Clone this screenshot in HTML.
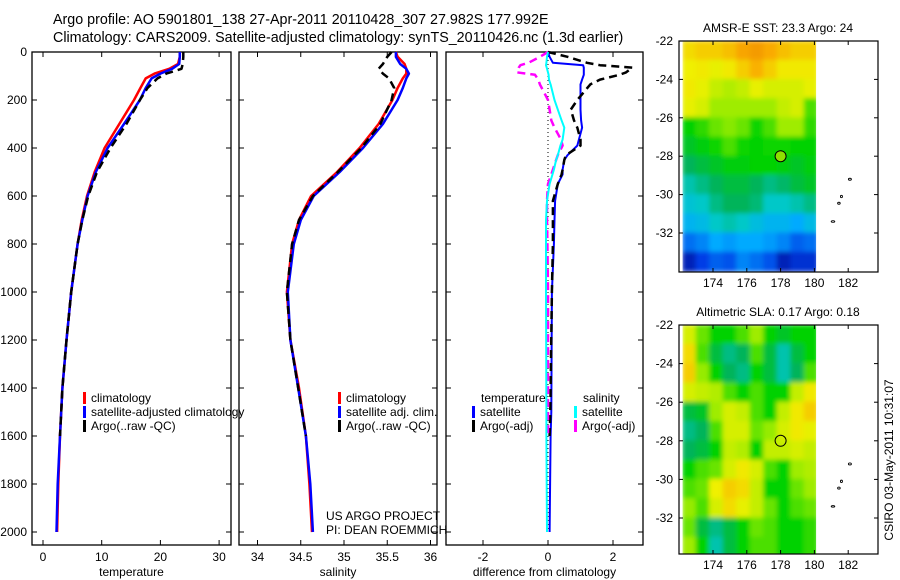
<!DOCTYPE html>
<html><head><meta charset="utf-8">
<style>
html,body{margin:0;padding:0;background:#fff;}
svg{display:block;font-family:"Liberation Sans",sans-serif;}
text{fill:#000;}
</style></head>
<body>
<svg id="c" width="900" height="580" viewBox="0 0 900 580">
<text x="53" y="24" font-size="14.3">Argo profile: AO 5901801_138 27-Apr-2011 20110428_307 27.982S 177.992E</text>
<text x="53" y="42" font-size="14.3">Climatology: CARS2009. Satellite-adjusted climatology: synTS_20110426.nc (1.3d earlier)</text>
</svg>
<script>
// ---- data ----
const depthLevels = [0,20,50,70,90,110,150,200,300,400,500,600,700,800,1000,1200,1400,1600,1800,2000];
const climTemp = [23.3,23.3,23.0,21.5,19.0,17.5,16.6,15.5,13.0,10.5,8.8,7.5,6.6,5.9,4.8,4.0,3.3,2.9,2.6,2.4];
const satTemp  = [23.3,23.3,23.2,22.0,20.0,18.5,17.5,16.5,13.8,11.0,9.0,7.6,6.7,5.9,4.8,4.0,3.3,2.9,2.5,2.3];
const argoDepths = [0,20,50,70,90,110,150,200,300,400,500,600,700,800,1000,1200,1400,1600];
const argoTemp = [23.9,23.9,23.8,23.6,21.0,19.5,17.8,16.5,14.2,11.5,9.2,7.7,6.7,5.9,4.8,4.0,3.3,2.9];
const climSal = [35.6,35.62,35.7,35.72,35.72,35.68,35.62,35.56,35.4,35.18,34.92,34.62,34.48,34.40,34.34,34.38,34.48,34.56,34.6,34.63];
const satSal  = [35.6,35.6,35.65,35.72,35.75,35.72,35.68,35.62,35.45,35.22,34.95,34.65,34.5,34.42,34.35,34.38,34.47,34.56,34.61,34.64];
const argoSal = [35.55,35.5,35.45,35.4,35.45,35.52,35.58,35.55,35.42,35.2,34.93,34.64,34.48,34.4,34.34,34.38,34.47,34.56];
const diffDepths = [0,20,45,55,65,85,95,115,135,200,240,285,315,365,390,430,450,490,510,550,620,700,800,1000,1500,1600,2000];
const satTempDiff = [0,0.05,0.15,1.08,1.1,1.1,1.1,1.05,1.0,1.0,1.0,1.02,1.05,0.95,0.9,0.6,0.5,0.45,0.45,0.3,0.22,0.2,0.18,0.12,0.1,0.08,0.05];
const argoTempDiff = [0,0.6,1.2,1.6,2.6,2.4,2.2,1.6,1.3,0.9,0.7,0.8,0.9,1.0,1.0,0.55,0.5,0.45,0.42,0.3,0.15,0.15,0.15,0.12,0.07,0.05,null];
const satSalDiff = [0,-0.03,-0.05,-0.06,-0.04,0.0,0.02,0.03,0.08,0.2,0.3,0.42,0.5,0.45,0.38,0.3,0.25,0.18,0.14,0.05,-0.03,-0.06,-0.06,-0.06,-0.05,-0.05,-0.03];
const argoSalDiff = [0,-0.25,-0.6,-0.85,-0.9,-0.95,-0.4,-0.3,-0.25,0,0.05,0.1,0.2,0.4,0.45,0.3,0.25,0.15,0.1,0.0,-0.03,-0.03,-0.02,0,0,0,null];
const depthTicks = [0,200,400,600,800,1000,1200,1400,1600,1800,2000];
const tempTicks = [0,10,20,30];
const salTicks = [34,34.5,35,35.5,36];
const diffTicks = [-2,0,2];
const lonTicks = [174,176,178,180,182];
const latTicks = [-22,-24,-26,-28,-30,-32];
// map grids: rows -22 -> -34 (1 deg), cols 172.2 -> 180.2 (0.8 deg), value 0..1 on colour scale
const sstGrid = [
[0.78,0.8,0.8,0.82,0.86,0.88,0.85,0.82,0.8,0.8],
[0.75,0.76,0.74,0.76,0.8,0.84,0.8,0.76,0.76,0.76],
[0.76,0.74,0.7,0.68,0.7,0.74,0.72,0.72,0.72,0.74],
[0.74,0.72,0.66,0.66,0.66,0.66,0.66,0.7,0.72,0.6],
[0.55,0.58,0.62,0.64,0.62,0.56,0.6,0.66,0.66,0.58],
[0.52,0.54,0.56,0.6,0.56,0.55,0.56,0.56,0.55,0.55],
[0.48,0.5,0.52,0.54,0.54,0.55,0.55,0.54,0.52,0.54],
[0.42,0.45,0.48,0.5,0.5,0.48,0.45,0.47,0.5,0.52],
[0.38,0.4,0.45,0.48,0.48,0.46,0.4,0.4,0.42,0.45],
[0.33,0.35,0.4,0.42,0.4,0.36,0.33,0.33,0.3,0.35],
[0.22,0.25,0.3,0.28,0.3,0.3,0.28,0.25,0.2,0.22],
[0.08,0.15,0.2,0.18,0.25,0.22,0.18,0.08,0.12,0.12]];
const slaGrid = [
[0.72,0.62,0.55,0.55,0.6,0.66,0.55,0.52,0.55,0.55],
[0.78,0.6,0.5,0.45,0.48,0.6,0.5,0.42,0.5,0.55],
[0.8,0.65,0.55,0.48,0.45,0.55,0.5,0.42,0.48,0.6],
[0.72,0.7,0.68,0.6,0.55,0.6,0.55,0.55,0.7,0.76],
[0.5,0.52,0.66,0.72,0.7,0.6,0.55,0.7,0.76,0.8],
[0.45,0.48,0.6,0.72,0.72,0.62,0.65,0.72,0.76,0.74],
[0.48,0.5,0.55,0.7,0.68,0.55,0.7,0.7,0.72,0.7],
[0.55,0.6,0.62,0.72,0.76,0.72,0.6,0.55,0.66,0.68],
[0.6,0.62,0.75,0.8,0.78,0.7,0.55,0.55,0.62,0.66],
[0.65,0.6,0.72,0.78,0.74,0.7,0.62,0.55,0.6,0.62],
[0.62,0.5,0.45,0.5,0.55,0.62,0.6,0.55,0.55,0.58],
[0.66,0.55,0.42,0.5,0.55,0.6,0.6,0.55,0.55,0.58]];
const floatLon = 178, floatLat = -28;

// ---- drawing ----
const NS='http://www.w3.org/2000/svg';
const svg=document.getElementById('c');
function mk(tag,attrs,parent){const e=document.createElementNS(NS,tag);for(const k in attrs)e.setAttribute(k,attrs[k]);(parent||svg).appendChild(e);return e;}
function txt(x,y,s,size,anchor,parent){const t=mk('text',{x:x,y:y,'font-size':size||12,'text-anchor':anchor||'start'},parent);t.textContent=s;return t;}
const yD=d=>52+d*0.24;
const panelTop=52, panelBot=545;

function panel(name,x0,x1,xs,ticks,fmt,label,showY){
  const g=mk('g',{});
  
  
  const r=mk('rect',{x:x0,y:panelTop,width:x1-x0,height:panelBot-panelTop,fill:'none',stroke:'#000','stroke-width':1.3},g);
  
  
  ticks.forEach(v=>{const x=xs(v);
    mk('line',{x1:x,y1:panelTop,x2:x,y2:panelTop+5,stroke:'#000'},g);
    mk('line',{x1:x,y1:panelBot,x2:x,y2:panelBot-5,stroke:'#000'},g);
    const t=txt(x,561,fmt(v),12,'middle',g);
    
    
  });
  depthTicks.forEach(d=>{const y=yD(d);
    mk('line',{x1:x0,y1:y,x2:x0+5,y2:y,stroke:'#000'},g);
    mk('line',{x1:x1,y1:y,x2:x1-5,y2:y,stroke:'#000'},g);
    if(showY){const t=txt(27,y+4,String(d),12,'end',g);
      
      }
  });
  const xl=txt((x0+x1)/2,576,label,12,'middle',g);
  
  
  return g;
}
function line(g,name,xs,depths,vals,color,dash,w){
  let pts=[];
  vals.forEach((v,i)=>{if(v!==null&&v!==undefined)pts.push(xs(v).toFixed(1)+','+yD(depths[i]).toFixed(1));});
  const p=mk('polyline',{points:pts.join(' '),fill:'none',stroke:color,'stroke-width':w||2.5,'stroke-dasharray':dash||'none','stroke-linejoin':'round'},g);
  
  
}
function legend(g,x,y,color,label,name){
  const r=mk('rect',{x:x,y:y-10,width:3,height:12,fill:color},g);
  
  
  const t=txt(x+8,y,label,12,'start',g);
  
  
}

// temperature panel
const xT=v=>43+v*5.87;
const gT=panel('temperature',32,231,xT,tempTicks,v=>String(v),'temperature',true);
line(gT,'temp-climatology-line',xT,depthLevels,climTemp,'#f00');
line(gT,'temp-satellite-line',xT,depthLevels,satTemp,'#00f');
line(gT,'temp-argo-line',xT,argoDepths,argoTemp,'#000','8,5');
legend(gT,83,402,'#f00','climatology','temp-legend-climatology');
legend(gT,83,416,'#00f','satellite-adjusted climatology','temp-legend-satellite');
legend(gT,83,430,'#000','Argo(..raw -QC)','temp-legend-argo');

// salinity panel
const xS=v=>257.5+(v-34)*86.5;
const gS=panel('salinity',239,437,xS,salTicks,v=>String(v),'salinity',false);
line(gS,'sal-climatology-line',xS,depthLevels,climSal,'#f00');
line(gS,'sal-satellite-line',xS,depthLevels,satSal,'#00f');
line(gS,'sal-argo-line',xS,argoDepths,argoSal,'#000','8,5');
legend(gS,338,402,'#f00','climatology','sal-legend-climatology');
legend(gS,338,416,'#00f','satellite adj. clim.','sal-legend-satellite');
legend(gS,338,430,'#000','Argo(..raw -QC)','sal-legend-argo');
const c1=txt(326,520,'US ARGO PROJECT',12,'start',gS);


const c2=txt(326,534,'PI: DEAN ROEMMICH',12,'start',gS);



// difference panel
const xDf=v=>548+v*32.5;
const gD=panel('difference',446,643,xDf,diffTicks,v=>v===0?'0':(v<0?'-'+Math.abs(v):String(v)),'difference from climatology',false);
const zl=mk('line',{x1:xDf(0),y1:panelTop,x2:xDf(0),y2:yD(2000),stroke:'#000','stroke-width':1,'stroke-dasharray':'1,3'},gD);


line(gD,'temp-satellite-diff-line',xDf,diffDepths,satTempDiff,'#00f',null,2);
line(gD,'temp-argo-diff-line',xDf,diffDepths,argoTempDiff,'#000','8,5',2.5);
line(gD,'sal-argo-diff-line',xDf,diffDepths,argoSalDiff,'#f0f','8,5',2.5);
line(gD,'sal-satellite-diff-line',xDf,diffDepths,satSalDiff,'#0ff',null,2);
const lt=txt(481,402,'temperature',12,'start',gD);


const ls=txt(583,402,'salinity',12,'start',gD);


legend(gD,472,416,'#00f','satellite','diff-legend-temp-satellite');
legend(gD,472,430,'#000','Argo(-adj)','diff-legend-temp-argo');
legend(gD,574,416,'#0ff','satellite','diff-legend-sal-satellite');
legend(gD,574,430,'#f0f','Argo(-adj)','diff-legend-sal-argo');

// maps
const cmapStops=[[0,0,0,130],[0.15,0,60,230],[0.3,0,170,255],[0.4,0,200,200],[0.48,0,180,90],[0.55,0,210,0],[0.65,150,235,0],[0.75,240,240,0],[0.85,250,170,0],[0.95,230,120,0],[1,220,100,0]];
function cmap(v){
  v=Math.max(0,Math.min(1,v));
  for(let i=1;i<cmapStops.length;i++){
    const a=cmapStops[i-1],b=cmapStops[i];
    if(v<=b[0]){const t=(v-a[0])/(b[0]-a[0]);
      return 'rgb('+[1,2,3].map(k=>Math.round(a[k]+(b[k]-a[k])*t)).join(',')+')';}
  }
  return 'rgb(220,100,0)';
}
function map(name,top,bot,yLat22,grid,title){
  const g=mk('g',{});
  
  
  const L=679,R=878;
  const lx=lon=>713+(lon-174)*16.9;
  const ly=lat=>yLat22+(-22-lat)*((name==='sst-map')?19.2:19.3);
  const fid=name+'-blur';
  const f=mk('filter',{id:fid,x:'0',y:'0',width:'1',height:'1'},g);
  mk('feGaussianBlur',{stdDeviation:'2.5'},f);
  const clip=mk('clipPath',{id:name+'-clip'},g);
  mk('rect',{x:lx(172.2),y:top,width:lx(180.1)-lx(172.2),height:bot-top},clip);
  const cells=mk('g',{'clip-path':'url(#'+name+'-clip)'},g);
  const ig=mk('g',{filter:'url(#'+fid+')'},cells);
  grid.forEach((row,i)=>row.forEach((v,j)=>{
    const x=lx(172.2+j*0.8)-0.5, y=ly(-22-i)-0.5;
    const rc=mk('rect',{x:x,y:y,width:13.5+1,height:19.3+1,fill:cmap(v)},ig);
    
    
  }));
  const fr=mk('rect',{x:L,y:top,width:R-L,height:bot-top,fill:'none',stroke:'#000','stroke-width':1.2},g);
  
  
  lonTicks.forEach(lon=>{const x=lx(lon);
    mk('line',{x1:x,y1:bot,x2:x,y2:bot-4,stroke:'#000'},g);
    mk('line',{x1:x,y1:top,x2:x,y2:top+4,stroke:'#000'},g);
    const t=txt(x,bot+15,String(lon),12,'middle',g);
    
    });
  latTicks.forEach(lat=>{const y=ly(lat);
    mk('line',{x1:L,y1:y,x2:L+4,y2:y,stroke:'#000'},g);
    mk('line',{x1:R,y1:y,x2:R-4,y2:y,stroke:'#000'},g);
    const t=txt(673,y+4,String(lat),12,'end',g);
    
    });
  const tt=txt(778,top-9,title,12,'middle',g);
  
  
  const mc=mk('circle',{cx:lx(floatLon),cy:ly(floatLat),r:5.5,fill:name==='sst-map'?'#8ee000':'none',stroke:'#000','stroke-width':1},g);
  
  
  [[182.1,-29.2,1.5,1],[181.6,-30.1,1,1.2],[181.45,-30.45,1.3,1],[181.1,-31.4,1.8,0.8]].forEach(p=>{
    const e=mk('ellipse',{cx:lx(p[0]),cy:ly(p[1]),rx:p[2],ry:p[3],fill:'none',stroke:'#000','stroke-width':0.9},g);
    
    });
}
map('sst-map',41,272,41,sstGrid,'AMSR-E SST: 23.3 Argo: 24');
map('sla-map',325,554,325,slaGrid,'Altimetric SLA: 0.17 Argo: 0.18');
const st=txt(0,0,'CSIRO 03-May-2011 10:31:07',12,'middle');
st.setAttribute('transform','translate(893,460) rotate(-90)');


</script>
</body></html>
